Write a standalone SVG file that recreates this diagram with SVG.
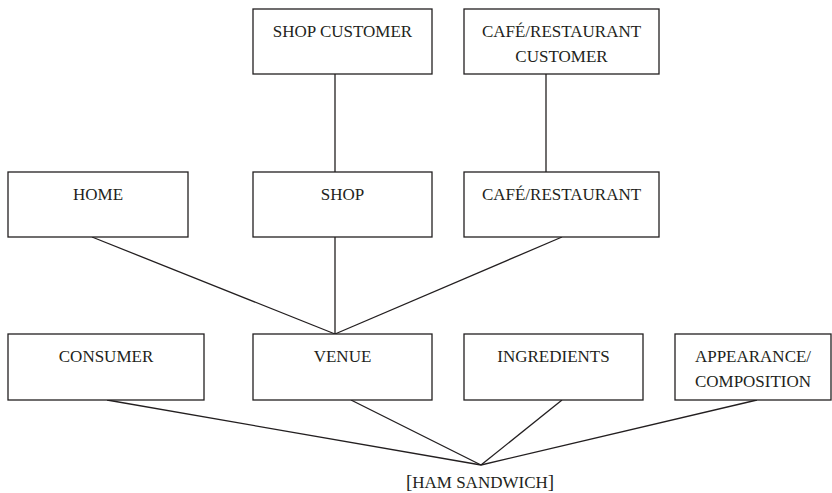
<svg xmlns="http://www.w3.org/2000/svg" width="832" height="493" viewBox="0 0 832 493">
<style>
.box{fill:#fff;stroke:#231f20;stroke-width:1.3}
.t{font-family:"Liberation Serif","Times New Roman",serif;font-size:17px;fill:#231f20;text-anchor:middle}
.br{font-size:19px}
.c line{stroke:#231f20;stroke-width:1.3}
</style>
<rect width="832" height="493" fill="#fff"/>
<g class="c" id="connectors">
<line x1="335" y1="74" x2="335" y2="172"/>
<line x1="546" y1="74" x2="546" y2="172"/>
<line x1="92" y1="237" x2="335" y2="334"/>
<line x1="335" y1="237" x2="335" y2="334"/>
<line x1="562" y1="237" x2="335" y2="334"/>
<line x1="107" y1="400" x2="481" y2="465"/>
<line x1="351" y1="400" x2="481" y2="465"/>
<line x1="562" y1="400" x2="481" y2="465"/>
<line x1="757" y1="400" x2="481" y2="465"/>
</g>
<g id="shop-customer"><rect class="box" x="253" y="9" width="179" height="65"/><text class="t" x="342.5" y="37">SHOP CUSTOMER</text></g>
<g id="cafe-customer"><rect class="box" x="464" y="9" width="195" height="65"/><text class="t" x="561.5" y="37">CAFÉ/RESTAURANT</text><text class="t" x="561.5" y="62">CUSTOMER</text></g>
<g id="home"><rect class="box" x="8" y="172" width="180" height="65"/><text class="t" x="98" y="200">HOME</text></g>
<g id="shop"><rect class="box" x="253" y="172" width="179" height="65"/><text class="t" x="342.5" y="200">SHOP</text></g>
<g id="cafe"><rect class="box" x="464" y="172" width="195" height="65"/><text class="t" x="561.5" y="200">CAFÉ/RESTAURANT</text></g>
<g id="consumer"><rect class="box" x="8" y="334" width="196" height="66"/><text class="t" x="106" y="362">CONSUMER</text></g>
<g id="venue"><rect class="box" x="253" y="334" width="179" height="66"/><text class="t" x="342.5" y="362">VENUE</text></g>
<g id="ingredients"><rect class="box" x="464" y="334" width="179" height="66"/><text class="t" x="553.5" y="362">INGREDIENTS</text></g>
<g id="appearance"><rect class="box" x="675" y="334" width="156" height="66"/><text class="t" x="753" y="362">APPEARANCE/</text><text class="t" x="753" y="387">COMPOSITION</text></g>
<g id="ham-sandwich"><text class="t" x="480" y="488"><tspan class="br">[</tspan>HAM SANDWICH<tspan class="br">]</tspan></text></g>
</svg>
